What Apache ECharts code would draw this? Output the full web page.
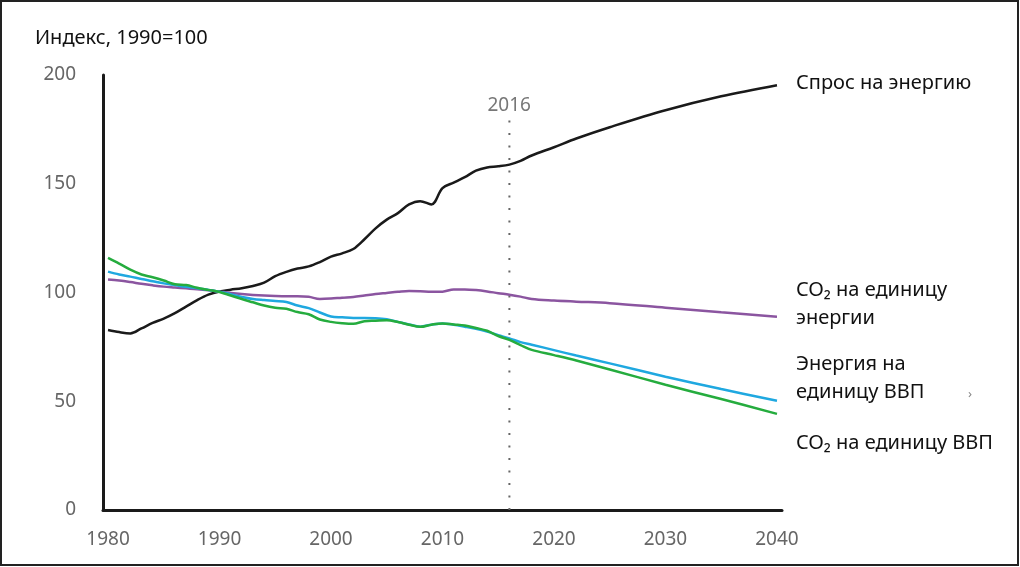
<!DOCTYPE html>
<html>
<head>
<meta charset="utf-8">
<script src="https://cdn.jsdelivr.net/npm/echarts@6/dist/echarts.min.js"></script>
<style>html,body{margin:0;padding:0;background:#fff}#c{width:1020px;height:567px}</style>
</head>
<body>
<div id="c"></div>
<script>
const years = [1980,1981,1982,1983,1984,1985,1986,1987,1988,1989,1990,1991,1992,1993,1994,1995,1996,1997,1998,1999,2000,2001,2002,2003,2004,2005,2006,2007,2008,2009,2010,2011,2012,2013,2014,2015,2016,2017,2018,2020,2022,2025,2030,2035,2040];
const energyDemand = [82.8,81.8,81.2,83.5,86,88,90.5,93.5,96.5,99,100.5,101.3,102,103,104.5,107.5,109.5,111,112,114,116.5,118,120,124.5,129.5,133.5,136.5,140.5,142,140.5,148,150.5,153,156,157.5,158,158.8,160.5,163,166.8,170.8,176,183.8,190.2,195.3];
const co2PerEnergy = [106,105.5,104.8,104,103.3,102.7,102.3,101.9,101.5,101,100.4,99.8,99.3,98.9,98.6,98.4,98.3,98.3,98,97,97.2,97.6,97.9,98.6,99.3,99.8,100.3,100.7,100.6,100.4,100.4,101.4,101.4,101.1,100.5,99.7,99.0,98.1,97,96.3,95.8,95.1,93,90.9,88.9];
const energyPerGdp = [109.6,108.3,107.3,106.2,105.2,104.2,103.4,102.6,102,101.2,100.4,99.2,98,97,96.5,96.1,95.6,94,92.8,90.8,89,88.6,88.3,88.3,88.2,87.7,86.5,85.3,84.3,85.2,85.8,85.2,84.3,83.3,82,80.4,78.9,77.2,76,73.5,71,67.4,61.3,55.6,50.2];
const co2PerGdp = [115.9,113.3,110.5,108.3,107,105.5,103.8,103.4,102.2,101.2,100.2,98.6,97,95.5,94,93,92.5,91,90,87.6,86.5,85.9,85.6,86.8,87,87.2,86.4,85.2,84.2,85.2,85.8,85.3,84.8,83.7,82.4,80,78.2,75.8,73.6,71.2,68.7,64.6,57.6,51,44.2];
const xTicks = [1980,1990,2000,2010,2020,2030,2040];
const yTicks = [0,50,100,150,200];
const markerYear = 2016;
const markerTop = 180;

const pair = arr => years.map((y,i)=>[y,arr[i]]);
const FONT = 'Noto Sans';
const chart = echarts.init(document.getElementById('c'), null, {renderer:'canvas'});
const lineSeries = (name, arr, color) => ({
  name, type:'line', data: pair(arr), showSymbol:false, smooth:0.35,
  lineStyle:{color, width:2.5}, z:3, silent:true
});
const txt = (left, top, text) => ({type:'text', left, top, style:{text, fill:'#111', font:'20px "Noto Sans"', lineHeight:28}});
chart.setOption({
  animation:false,
  backgroundColor:'#fff',
  grid:{left:103, right:238, top:75, bottom:57},
  xAxis:{type:'value', min:1979.55, max:2040.45,
    axisLine:{show:true, onZero:false, lineStyle:{color:'#1a1a1a', width:3}},
    axisTick:{show:false}, splitLine:{show:false},
    axisLabel:{customValues:xTicks, margin:20, color:'#666', fontSize:19, fontFamily:FONT, formatter: v=>String(v)}
  },
  yAxis:{type:'value', min:0, max:200, interval:50,
    axisLine:{show:true, lineStyle:{color:'#1a1a1a', width:3}},
    axisTick:{show:false}, splitLine:{show:false},
    axisLabel:{margin:27, color:'#666', fontSize:19, fontFamily:FONT, customValues:yTicks}
  },
  series:[
    {type:'line', data:[[markerYear,0],[markerYear,markerTop]], showSymbol:false, silent:true,
     lineStyle:{color:'#666', width:2, type:[2,10.5]}, z:1,
     label:{show:false},
     endLabel:{show:true, formatter:String(markerYear), color:'#777', fontSize:19, fontFamily:FONT, offset:[-30,-13]}
    },
    lineSeries('Спрос на энергию', energyDemand, '#1a1a1a'),
    lineSeries('CO₂ на единицу энергии', co2PerEnergy, '#8b55a0'),
    lineSeries('Энергия на единицу ВВП', energyPerGdp, '#1fa8e0'),
    lineSeries('CO₂ на единицу ВВП', co2PerGdp, '#25ac3e')
  ],
  graphic:[
    {type:'rect', shape:{x:1,y:1,width:1017,height:564}, style:{fill:'none', stroke:'#222', lineWidth:2}, silent:true},
    txt(35, 24, 'Индекс, 1990=100'),
    txt(796, 69, 'Спрос на энергию'),
    txt(796, 276, 'CO₂ на единицу\nэнергии'),
    txt(796, 350, 'Энергия на\nединицу ВВП'),
    txt(796, 429, 'CO₂ на единицу ВВП'),
    {type:'text', left:968, top:388, style:{text:'›', fill:'#888', font:'13px "Noto Sans"'}}
  ]
});
</script>
</body>
</html>
